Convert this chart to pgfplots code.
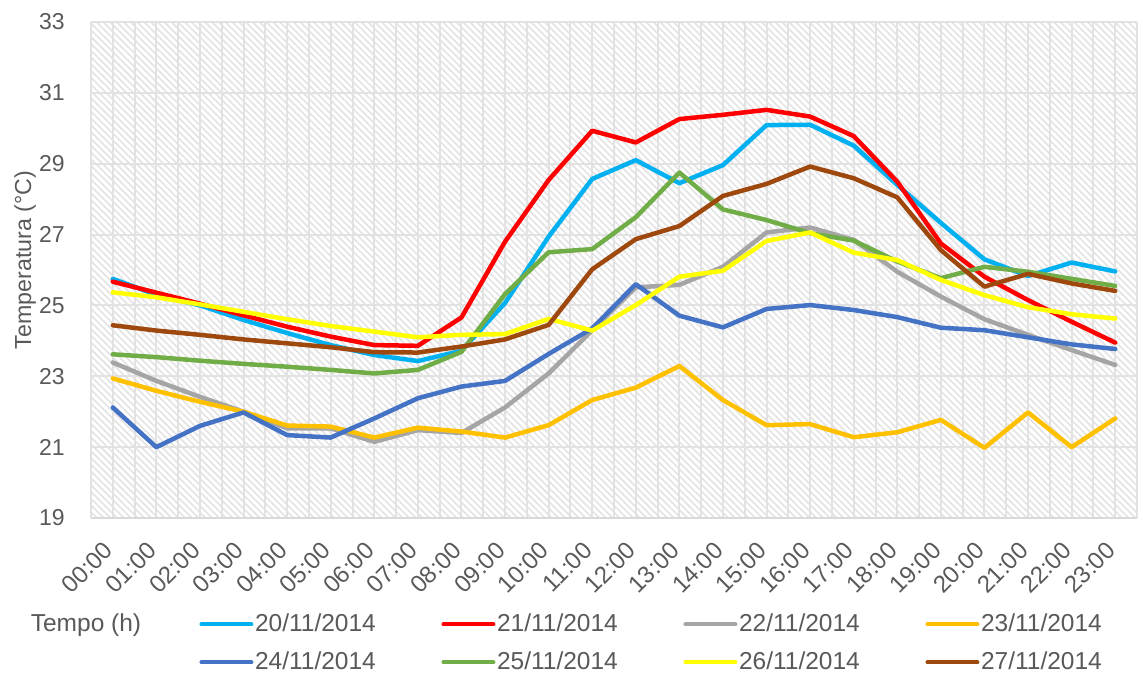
\documentclass[border=0pt]{standalone}
\usepackage{pgfplots}
\pgfplotsset{compat=1.18}
\usepackage{pgfplotstable}
\usepackage{fontspec}
\setmainfont{Liberation Sans}
\usetikzlibrary{patterns.meta}
\definecolor{txt}{HTML}{595959}
\definecolor{gridc}{HTML}{E2E2E2}
\definecolor{axisc}{HTML}{D9D9D9}
\definecolor{hatch}{HTML}{E3E3E3}
\definecolor{sA}{HTML}{00B0F0}
\definecolor{sB}{HTML}{FF0000}
\definecolor{sC}{HTML}{A5A5A5}
\definecolor{sD}{HTML}{FFC000}
\definecolor{sE}{HTML}{4472C4}
\definecolor{sF}{HTML}{70AD47}
\definecolor{sG}{HTML}{FFFF00}
\definecolor{sH}{HTML}{9E480E}

\pgfplotstableread{
h  c20   c21   c22   c23   c24   c25   c26   c27
0  25.75 25.67 23.39 22.94 22.12 23.62 25.37 24.44
1  25.30 25.36 22.87 22.59 21.00 23.54 25.23 24.29
2  25.00 25.05 22.42 22.28 21.60 23.44 25.03 24.17
3  24.59 24.72 22.00 22.00 21.98 23.35 24.82 24.04
4  24.22 24.40 21.53 21.61 21.34 23.27 24.61 23.93
5  23.88 24.12 21.53 21.58 21.27 23.18 24.42 23.82
6  23.60 23.88 21.15 21.27 21.81 23.08 24.26 23.68
7  23.43 23.86 21.48 21.55 22.38 23.18 24.10 23.67
8  23.72 24.66 21.40 21.44 22.71 23.69 24.17 23.84
9  25.07 26.80 22.12 21.27 22.87 25.32 24.19 24.04
10 26.94 28.54 23.08 21.62 23.63 26.50 24.62 24.45
11 28.57 29.93 24.30 22.33 24.35 26.59 24.29 26.02
12 29.10 29.60 25.51 22.68 25.60 27.49 25.01 26.87
13 28.45 30.26 25.58 23.29 24.71 28.75 25.81 27.24
14 28.96 30.38 26.09 22.33 24.38 27.71 25.98 28.09
15 30.09 30.52 27.06 21.62 24.90 27.41 26.82 28.43
16 30.10 30.33 27.20 21.65 25.01 27.04 27.06 28.92
17 29.51 29.78 26.85 21.28 24.87 26.83 26.49 28.59
18 28.40 28.49 25.95 21.42 24.67 26.24 26.28 28.05
19 27.33 26.75 25.25 21.77 24.37 25.77 25.72 26.56
20 26.30 25.81 24.61 20.98 24.30 26.09 25.29 25.53
21 25.83 25.15 24.17 21.98 24.10 25.95 24.95 25.89
22 26.21 24.54 23.74 21.00 23.90 25.75 24.75 25.62
23 25.96 23.95 23.32 21.81 23.77 25.55 24.63 25.41
}\datatable

\begin{document}
\begin{tikzpicture}
\useasboundingbox (-45.5pt,-80.5pt) rectangle (526pt,259pt);
\begin{axis}[
  scale only axis,
  width=523pt, height=248pt,
  xmin=-0.5, xmax=23.5, ymin=19, ymax=33,
  xtick={0,...,23},
  xticklabels={00:00,01:00,02:00,03:00,04:00,05:00,06:00,07:00,08:00,09:00,10:00,11:00,12:00,13:00,14:00,15:00,16:00,17:00,18:00,19:00,20:00,21:00,22:00,23:00},
  minor xtick={-0.5,0.5,...,23.5},
  ytick={19,21,...,33},
  xmajorgrids, xminorgrids, ymajorgrids,
  grid style={draw=gridc, line width=1pt},
  minor grid style={draw=gridc, line width=1pt},
  major tick length=0pt, minor tick length=0pt,
  axis line style={draw=none},
  axis background/.style={fill=white, postaction={pattern={Lines[angle=-45,distance=2.4pt,line width=0.8pt]}, pattern color=hatch}},
  /pgf/number format/assume math mode=true,
  yticklabel style={font=\fontsize{11.5}{13}\selectfont, text=txt, inner sep=0pt, xshift=-13pt},
  xticklabel style={font=\fontsize{12}{14}\selectfont, text=txt, inner sep=0pt, xshift=-2pt, yshift=-14pt, rotate=45, anchor=east},
  xlabel={Tempo (h)},
  xlabel style={at={(axis description cs:-0.0048,-0.2157)}, anchor=center, font=\fontsize{12.25}{14}\selectfont, text=txt},
  ylabel={Temperatura (°C)},
  ylabel style={at={(axis description cs:-0.063,0.52)}, anchor=center, font=\fontsize{11.6}{13}\selectfont, text=txt},
  legend columns=4,
  legend style={draw=none, fill=none, inner sep=0pt, at={(axis description cs:0.1033,-0.1895)}, anchor=north west, font=\fontsize{12.25}{14}\selectfont, text=txt, nodes={inner sep=0.8pt}, /tikz/every even column/.append style={column sep=32pt}, row sep=7pt},
  legend image code/.code={\draw[#1, line width=2pt] (0pt,0pt) -- (25pt,0pt);},
  extra description/.code={\draw[axisc, line width=1.2pt] (rel axis cs:0,0) -- (rel axis cs:1,0);},
  every axis plot/.append style={line width=2.25pt, line join=round, line cap=round, mark=none},
]
\addplot[sA] table[x=h, y=c20]{\datatable};
\addlegendentry{20/11/2014}
\addplot[sB] table[x=h, y=c21]{\datatable};
\addlegendentry{21/11/2014}
\addplot[sC] table[x=h, y=c22]{\datatable};
\addlegendentry{22/11/2014}
\addplot[sD] table[x=h, y=c23]{\datatable};
\addlegendentry{23/11/2014}
\addplot[sE] table[x=h, y=c24]{\datatable};
\addlegendentry{24/11/2014}
\addplot[sF] table[x=h, y=c25]{\datatable};
\addlegendentry{25/11/2014}
\addplot[sG] table[x=h, y=c26]{\datatable};
\addlegendentry{26/11/2014}
\addplot[sH] table[x=h, y=c27]{\datatable};
\addlegendentry{27/11/2014}
\end{axis}
\end{tikzpicture}
\end{document}
